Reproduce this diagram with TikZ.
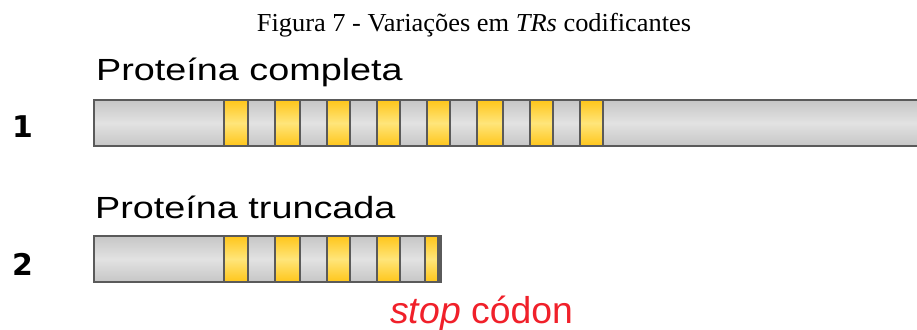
\documentclass[tikz,border=0pt]{standalone}
\usepackage{fontspec}
\setmainfont{Liberation Serif}
\newfontfamily\titlefont[FakeStretch=1.02]{Liberation Serif}
\newfontfamily\labelfont[FakeStretch=1.235]{Liberation Sans}
\newfontfamily\stopfont{Liberation Sans}
\newfontfamily\numfont{DejaVu Sans}
\definecolor{segborder}{HTML}{5A5A5A}
\definecolor{grayedge}{HTML}{C6C6C6}
\definecolor{graymid}{HTML}{E2E2E2}
\definecolor{goldedge}{HTML}{FFC61A}
\definecolor{goldmid}{HTML}{FFE57A}
\definecolor{stopred}{HTML}{F0202A}
\tikzset{
  graybox/.style={draw=segborder, line width=1.6bp, top color=grayedge, bottom color=grayedge, middle color=graymid},
  goldbox/.style={draw=segborder, line width=1.6bp, top color=goldedge, bottom color=goldedge, middle color=goldmid},
  caption/.style={font=\titlefont\fontsize{26}{30}\selectfont, anchor=base, inner sep=0pt},
  rowlabel/.style={font=\labelfont\fontsize{30.7}{36}\selectfont, anchor=base west, inner sep=0pt},
  rownum/.style={font=\numfont\bfseries\fontsize{30}{36}\selectfont, anchor=base west, inner sep=0pt},
  stoplabel/.style={font=\stopfont\fontsize{37.5}{44}\selectfont, text=stopred, anchor=base west, inner sep=0pt}
}
\begin{document}
\begin{tikzpicture}[x=1bp, y=-1bp]
\useasboundingbox (0,0) rectangle (917,329);
\clip (0,0) rectangle (917,329);

% caption
\node[caption] (title) at (474,31.5) {Figura 7 - Variações em \textit{TRs} codificantes};

% row 1: full-length protein
\node[rowlabel] (lab1) at (96,80) {Proteína completa};
\node[rownum] (n1) at (12,137) {1};
\draw[graybox] (94,100) rectangle (930,146);
\foreach \xa/\xb in {224/248, 275/300, 327/350, 377/400, 427/450, 477/503, 530/553, 580/603} {
  \draw[goldbox] (\xa,100) rectangle (\xb,146);
}
\foreach \xa/\xb in {248/275, 300/327, 350/377, 400/427, 450/477, 503/530, 553/580} {
  \draw[graybox] (\xa,100) rectangle (\xb,146);
}

% row 2: truncated protein
\node[rowlabel] (lab2) at (95,218) {Proteína truncada};
\node[rownum] (n2) at (12,275) {2};
\draw[graybox] (94,236) rectangle (441,282);
\foreach \xa/\xb in {224/248, 275/300, 327/350, 377/400, 425/438} {
  \draw[goldbox] (\xa,236) rectangle (\xb,282);
}
\foreach \xa/\xb in {248/275, 300/327, 350/377, 400/425} {
  \draw[graybox] (\xa,236) rectangle (\xb,282);
}
\draw[segborder, line width=2.4bp] (440.5,236) -- (440.5,282);

\node[stoplabel] (stop) at (390,323) {\textit{stop} códon};
\end{tikzpicture}
\end{document}
